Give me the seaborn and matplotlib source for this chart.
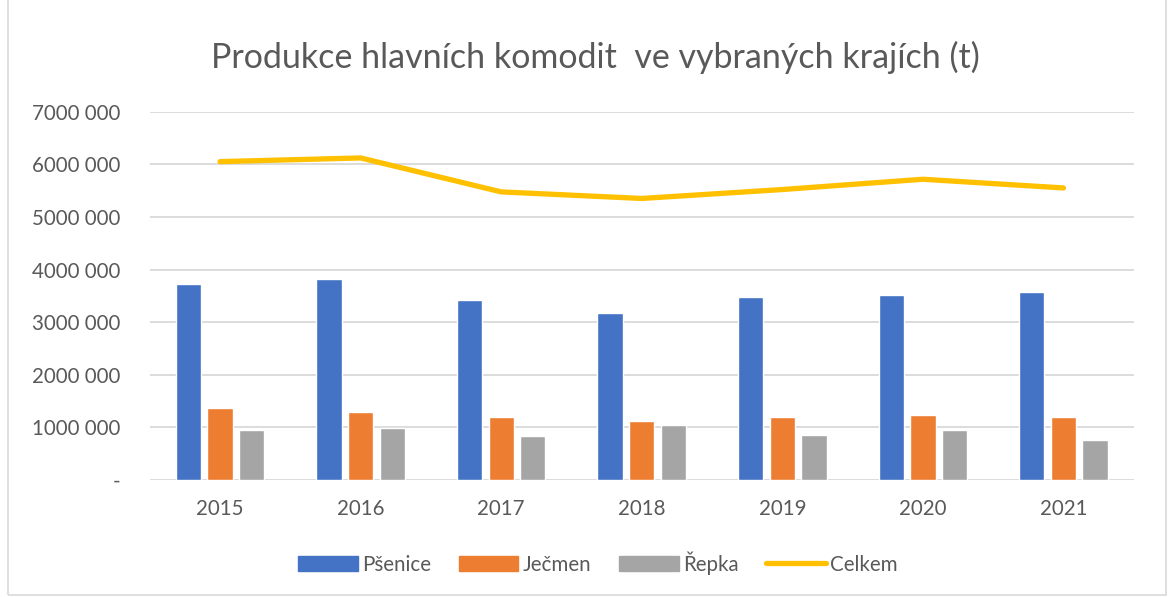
import numpy as np
import pandas as pd
import matplotlib
matplotlib.use("Agg")
import matplotlib.pyplot as plt
import matplotlib.patches as mpatches
import matplotlib.lines as mlines
from matplotlib.ticker import FuncFormatter
import seaborn as sns

# data (t)
years = ["2015", "2016", "2017", "2018", "2019", "2020", "2021"]
psenice = [3716000, 3824000, 3418000, 3171000, 3469000, 3513000, 3570000]
jecmen = [1376000, 1287000, 1205000, 1116000, 1192000, 1243000, 1198000]
repka = [945000, 989000, 843000, 1046000, 850000, 945000, 767000]
celkem = [6050000, 6120000, 5475000, 5350000, 5520000, 5715000, 5550000]

series = ["Pšenice", "Ječmen", "Řepka"]
colors = ["#4472C4", "#ED7D31", "#A5A5A5"]
line_color = "#FFC000"
text_color = "#595959"
grid_color = "#D9D9D9"

df = pd.DataFrame({"rok": years, "Pšenice": psenice, "Ječmen": jecmen, "Řepka": repka})
long_df = df.melt(id_vars="rok", var_name="plodina", value_name="produkce")

sns.set_theme(style="white")
plt.rcParams["font.family"] = ["Lato", "DejaVu Sans"]

fig = plt.figure(figsize=(11.7, 5.97), dpi=100)
ax = fig.add_axes([0.128, 0.196, 0.841, 0.617])

sns.barplot(data=long_df, x="rok", y="produkce", hue="plodina", hue_order=series,
            palette=colors, width=0.675, gap=0.2, saturation=1, ax=ax, legend=False)
sns.lineplot(x=np.arange(len(years)), y=celkem, color=line_color, linewidth=3.8,
             solid_capstyle="round", ax=ax)

ax.set_xlim(-0.5, len(years) - 0.5)
ax.set_ylim(0, 7000000)
ax.set_yticks(np.arange(0, 7000001, 1000000))
ax.yaxis.set_major_formatter(FuncFormatter(
    lambda v, p: "-" if v == 0 else f"{int(v // 1000)} 000"))
ax.grid(axis="y", color=grid_color, linewidth=1.3)
ax.set_axisbelow(True)
for s in ["top", "right", "left", "bottom"]:
    ax.spines[s].set_visible(False)
ax.tick_params(axis="both", length=0, labelsize=14.8, labelcolor=text_color)
ax.tick_params(axis="y", pad=21)
ax.tick_params(axis="x", pad=14)
ax.set_xlabel("")
ax.set_ylabel("")

fig.text(0.509, 0.903, "Produkce hlavních komodit  ve vybraných krajích (t)",
         ha="center", va="center", fontsize=24.5, color=text_color)

handles = [mpatches.Patch(color=c, label=n) for c, n in zip(colors, series)]
handles.append(mlines.Line2D([], [], color=line_color, linewidth=3.8,
                             solid_capstyle="round", label="Celkem"))
fig.legend(handles=handles, loc="center", bbox_to_anchor=(0.511, 0.057), ncol=4,
           frameon=False, fontsize=14.8, labelcolor=text_color, handlelength=2.9,
           handleheight=0.75, handletextpad=0.2, columnspacing=1.35)

# chart area border
fig.patches.append(mpatches.Rectangle((0.007, 0.003), 0.99, 1.2, transform=fig.transFigure,
                                      fill=False, edgecolor=grid_color, linewidth=1.2))

fig.savefig("out.png", dpi=100)
